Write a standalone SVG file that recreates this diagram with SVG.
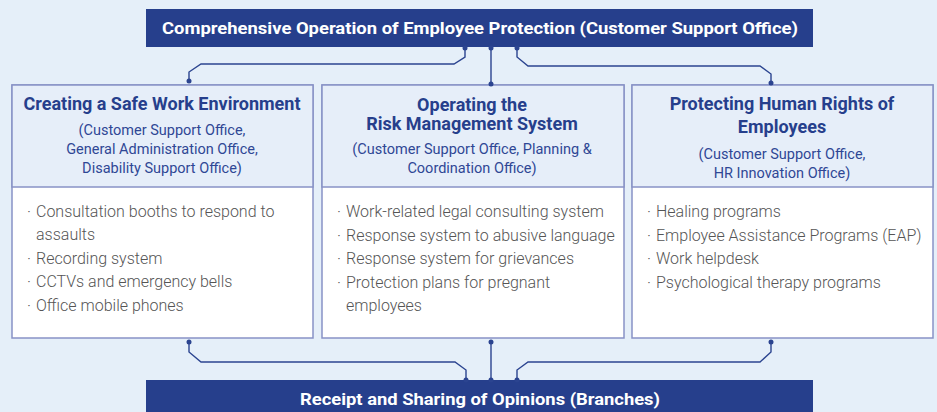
<svg xmlns="http://www.w3.org/2000/svg" width="937" height="412" viewBox="0 0 937 412">
<defs>
<style>
.bar{fill:#263f8c}
.bartxt{font-family:Roboto,"Liberation Sans",sans-serif;font-weight:700;font-size:17px;fill:#ffffff;text-anchor:middle}
.box{fill:#ffffff;stroke:#8892c6;stroke-width:1.5}
.head{fill:#e6eef9;stroke:#8892c6;stroke-width:1.5}
.title{font-family:Roboto,"Liberation Sans",sans-serif;font-weight:700;font-size:18px;fill:#263f8c;text-anchor:middle}
.sub{font-family:Roboto,"Liberation Sans",sans-serif;font-weight:400;font-size:14.5px;fill:#2f4795;text-anchor:middle}
.item{font-family:Roboto,"Liberation Sans",sans-serif;font-weight:300;font-size:16px;fill:#555555}
.conn{fill:none;stroke:#2b4490;stroke-width:1.4}
.dot{fill:#2b4490}
</style>
</defs>
<rect width="937" height="412" fill="#e5eff9"/>

<g id="top">
<rect class="bar" x="146" y="9" width="667" height="38"/>
<text class="bartxt" x="480" y="34" textLength="636" lengthAdjust="spacingAndGlyphs">Comprehensive Operation of Employee Protection (Customer Support Office)</text>
</g>

<g id="bottom">
<rect class="bar" x="146" y="380" width="667" height="34"/>
<text class="bartxt" x="480" y="405" textLength="360" lengthAdjust="spacingAndGlyphs">Receipt and Sharing of Opinions (Branches)</text>
</g>

<g id="box-left">
<rect class="box" x="12" y="85" width="301" height="253"/>
<rect class="head" x="12" y="85" width="301" height="102"/>
<text class="title" x="162" y="110">Creating a Safe Work Environment</text>
<text class="sub" x="162" y="135">(Customer Support Office,</text>
<text class="sub" x="162" y="154">General Administration Office,</text>
<text class="sub" x="162" y="173">Disability Support Office)</text>
<text class="item" x="27" y="217">·</text><text class="item" x="36" y="217">Consultation booths to respond to</text>
<text class="item" x="36" y="240">assaults</text>
<text class="item" x="27" y="264">·</text><text class="item" x="36" y="264">Recording system</text>
<text class="item" x="27" y="287">·</text><text class="item" x="36" y="287">CCTVs and emergency bells</text>
<text class="item" x="27" y="311">·</text><text class="item" x="36" y="311">Office mobile phones</text>
</g>

<g id="box-middle">
<rect class="box" x="322" y="85" width="302" height="253"/>
<rect class="head" x="322" y="85" width="302" height="102"/>
<text class="title" x="472" y="111">Operating the</text>
<text class="title" x="472" y="130">Risk Management System</text>
<text class="sub" x="472" y="154">(Customer Support Office, Planning &amp;</text>
<text class="sub" x="472" y="173">Coordination Office)</text>
<text class="item" x="337" y="217">·</text><text class="item" x="346" y="217">Work-related legal consulting system</text>
<text class="item" x="337" y="241">·</text><text class="item" x="346" y="241">Response system to abusive language</text>
<text class="item" x="337" y="264">·</text><text class="item" x="346" y="264">Response system for grievances</text>
<text class="item" x="337" y="288">·</text><text class="item" x="346" y="288">Protection plans for pregnant</text>
<text class="item" x="346" y="311">employees</text>
</g>

<g id="box-right">
<rect class="box" x="632" y="85" width="301" height="253"/>
<rect class="head" x="632" y="85" width="301" height="102"/>
<text class="title" x="782" y="110">Protecting Human Rights of</text>
<text class="title" x="782" y="133">Employees</text>
<text class="sub" x="782" y="159">(Customer Support Office,</text>
<text class="sub" x="782" y="178">HR Innovation Office)</text>
<text class="item" x="647" y="217">·</text><text class="item" x="656" y="217">Healing programs</text>
<text class="item" x="647" y="241">·</text><text class="item" x="656" y="241">Employee Assistance Programs (EAP)</text>
<text class="item" x="647" y="264">·</text><text class="item" x="656" y="264">Work helpdesk</text>
<text class="item" x="647" y="288">·</text><text class="item" x="656" y="288">Psychological therapy programs</text>
</g>

<g id="connectors">
<path class="conn" d="M465,47 V57 L454,64 H201 L189,72 V81"/>
<path class="conn" d="M491,47 V84"/>
<path class="conn" d="M517,47 V57 L528,66 H760 L771,74 V83"/>
<path class="conn" d="M189,342 V352 L201,362 H455 L466,370 V380"/>
<path class="conn" d="M491,342 V380"/>
<path class="conn" d="M771,342 V352 L760,362 H528 L517,370 V380"/>
<circle class="dot" cx="465" cy="48" r="2.5"/>
<circle class="dot" cx="491" cy="48" r="2.5"/>
<circle class="dot" cx="517" cy="48" r="2.5"/>
<circle class="dot" cx="189" cy="81" r="2.5"/>
<circle class="dot" cx="491" cy="84" r="2.5"/>
<circle class="dot" cx="771" cy="83" r="2.5"/>
<circle class="dot" cx="189" cy="342" r="2.5"/>
<circle class="dot" cx="491" cy="342" r="2.5"/>
<circle class="dot" cx="771" cy="342" r="2.5"/>
<circle class="dot" cx="466" cy="380" r="2.5"/>
<circle class="dot" cx="491" cy="380" r="2.5"/>
<circle class="dot" cx="517" cy="380" r="2.5"/>
</g>
</svg>
